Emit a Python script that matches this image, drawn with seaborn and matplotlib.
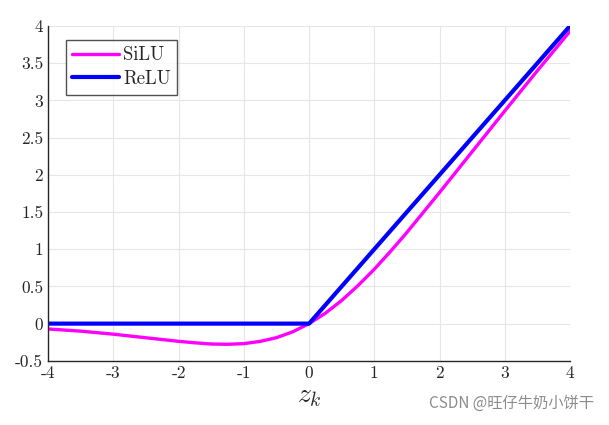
import numpy as np
import pandas as pd
import matplotlib
matplotlib.use("Agg")
import matplotlib.pyplot as plt
import seaborn as sns

# --- values ---
z_silu = [-4, -3.5, -3, -2.5, -2, -1.75, -1.5, -1.25, -1, -0.75, -0.5, -0.25,
          0, 0.25, 0.5, 0.75, 1, 1.25, 1.5, 2, 2.5, 3, 3.5, 4]
silu = [-0.072, -0.101, -0.142, -0.190, -0.238, -0.258, -0.274, -0.278, -0.269,
        -0.239, -0.189, -0.110, 0.0, 0.140, 0.311, 0.511, 0.731, 0.972, 1.226,
        1.762, 2.310, 2.858, 3.399, 3.928]
z_relu = [-4, 0, 4]
relu = [0, 0, 4]
xticks = [-4, -3, -2, -1, 0, 1, 2, 3, 4]
yticks = [-0.5, 0, 0.5, 1, 1.5, 2, 2.5, 3, 3.5, 4]

sns.set_style("white")
plt.rcParams['font.family'] = ['cmr10', 'DejaVu Serif']
plt.rcParams['mathtext.fontset'] = 'cm'
plt.rcParams['axes.unicode_minus'] = False
plt.rcParams['axes.formatter.use_mathtext'] = True

fig = plt.figure(figsize=(6.09, 4.25), dpi=100)
ax = fig.add_axes([0.079, 0.151, 0.857, 0.788])

df_silu = pd.DataFrame({'z': z_silu, 'y': silu})
df_relu = pd.DataFrame({'z': z_relu, 'y': relu})
sns.lineplot(data=df_silu, x='z', y='y', ax=ax, color='#ff00ff', linewidth=2.4, label='SiLU')
sns.lineplot(data=df_relu, x='z', y='y', ax=ax, color='#0000ff', linewidth=3.0, label='ReLU')

ax.set_xlim(-4, 4)
ax.set_ylim(-0.5, 4)
ax.set_xticks(xticks)
ax.set_yticks(yticks)
ax.set_xticklabels([str(t) for t in xticks])
ax.set_yticklabels([('%g' % t) for t in yticks])
ax.grid(True, color='#e6e6e6', linewidth=0.8)
ax.set_axisbelow(True)
ax.tick_params(direction='in', length=4, width=1, colors='#262626', labelsize=12.5)
for s in ['top', 'right']:
    ax.spines[s].set_visible(False)
for s in ['left', 'bottom']:
    ax.spines[s].set_color('#262626')
    ax.spines[s].set_linewidth(1)

ax.set_xlabel(r'$z_k$', fontsize=20, labelpad=1)
ax.set_ylabel('')

leg = ax.legend(loc='upper left', bbox_to_anchor=(0.034, 0.958), fontsize=13.5,
                borderaxespad=0, frameon=True, fancybox=False, edgecolor='#262626',
                handlelength=2.5, handletextpad=0.2, borderpad=0.35, labelspacing=0.3)
leg.get_frame().set_linewidth(1)

fig.text(0.975, 0.03, 'CSDN @旺仔牛奶小饼干', ha='right', va='bottom', fontsize=11,
         color='#8c8c8c', family=['Noto Sans CJK SC', 'DejaVu Sans'])

fig.savefig('out.png', dpi=100)
